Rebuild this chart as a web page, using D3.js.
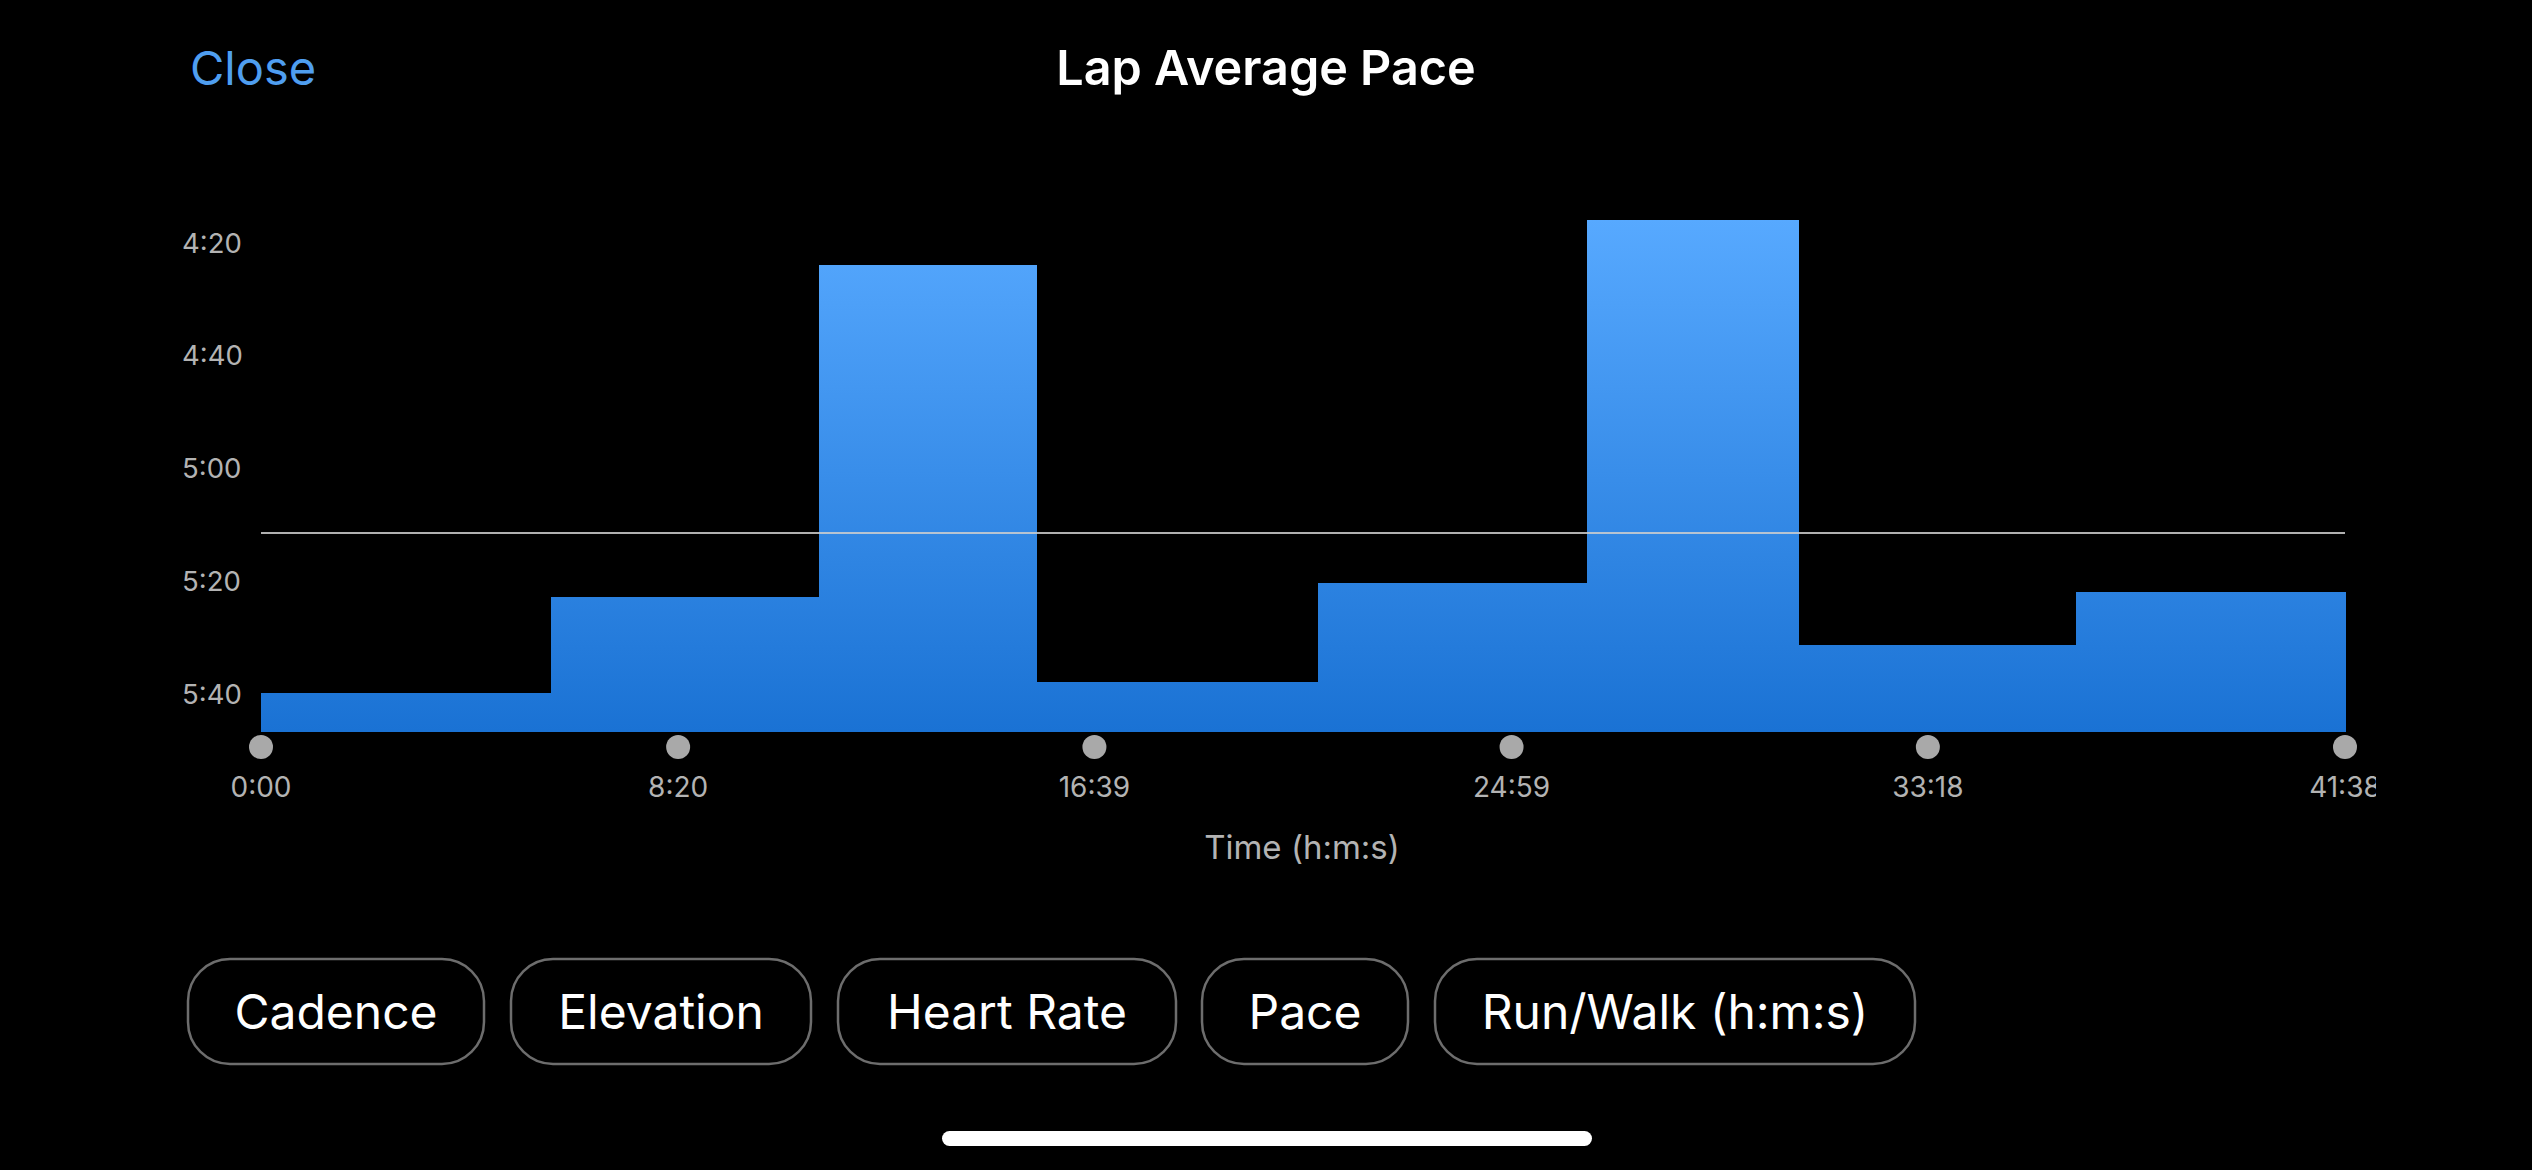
<!DOCTYPE html>
<html>
<head>
<meta charset="utf-8">
<script src="https://cdn.jsdelivr.net/npm/d3@7"></script>
<style>
  html, body { margin: 0; padding: 0; background: #000; overflow: hidden; }
  svg { display: block; font-family: Inter, Roboto, "Noto Sans", sans-serif; }
</style>
</head>
<body>
<div id="chart"></div>
<script>
// lap data (seconds)
var lapDurations = [348, 321, 261, 337, 323, 253, 333, 322]
var lapPaces = [340, 323, 264, 338, 320.5, 256, 331.5, 322]
var avgPace = 311.6
var paceTicks = [260, 280, 300, 320, 340]
var timeTicks = [0, 500, 999, 1499, 1998, 2498]
var buttonLabels = ["Cadence", "Elevation", "Heart Rate", "Pace", "Run/Walk (h:m:s)"]

var W = 2532, H = 1170
var plot = {left: 261, right: 2345, top: 219.5, bottom: 731.5}

var svg = d3.select("#chart").append("svg")
    .attr("width", W).attr("height", H)

svg.append("rect").attr("width", W).attr("height", H).style("fill", "#000")

var fmt = function(s) {
  s = Math.round(s)
  var m = Math.floor(s / 60), r = s % 60
  return m + ":" + (r < 10 ? "0" : "") + r
}

// header
svg.append("text").attr("x", 190).attr("y", 85)
    .style("font-size", "47px").style("fill", "#4f9ef0")
    .text("Close")
svg.append("text").attr("x", 1266).attr("y", 85)
    .attr("text-anchor", "middle")
    .style("font-size", "48.5px").style("font-weight", 600).style("fill", "#fff")
    .text("Lap Average Pace")

// scales
var total = d3.sum(lapDurations)
var x = d3.scaleLinear().domain([0, total]).range([plot.left, plot.right])
var y = d3.scaleLinear().domain([346.8, 256]).range([plot.bottom, plot.top])

var laps = []
var t = 0
lapDurations.forEach(function(d, i) {
  laps.push({start: t, end: t + d, pace: lapPaces[i]})
  t += d
})

// gradient over the whole plot height
var defs = svg.append("defs")
var grad = defs.append("linearGradient").attr("id", "barGrad")
    .attr("gradientUnits", "userSpaceOnUse")
    .attr("x1", 0).attr("x2", 0).attr("y1", plot.top).attr("y2", plot.bottom)
grad.append("stop").attr("offset", "0%").attr("stop-color", "#57a9ff")
grad.append("stop").attr("offset", "100%").attr("stop-color", "#1a72d4")

defs.append("clipPath").attr("id", "xclip")
  .append("rect").attr("x", 0).attr("y", 0).attr("width", 2376).attr("height", H)

// bars
svg.append("g").attr("shape-rendering", "crispEdges")
  .selectAll("rect").data(laps).join("rect")
    .attr("x", function(d) { return x(d.start) })
    .attr("width", function(d) { return x(d.end) - x(d.start) + 0.5 })
    .attr("y", function(d) { return y(d.pace) })
    .attr("height", function(d) { return plot.bottom - y(d.pace) })
    .style("fill", "url(#barGrad)")

// average line
svg.append("line")
    .attr("x1", x(0)).attr("x2", x(total))
    .attr("y1", y(avgPace)).attr("y2", y(avgPace))
    .style("stroke", "#cfcfcf").style("stroke-opacity", 0.85).style("stroke-width", 2)

// y labels
svg.append("g").selectAll("text").data(paceTicks).join("text")
    .attr("x", 182).attr("y", function(d) { return y(d) })
    .attr("dy", "0.38em")
    .style("font-size", "27.5px").style("fill", "#b3b3b3")
    .text(fmt)

// x axis: dots + labels
var xg = svg.append("g").attr("clip-path", "url(#xclip)")
xg.selectAll("circle").data(timeTicks).join("circle")
    .attr("cx", function(d) { return x(d) }).attr("cy", 747).attr("r", 12)
    .style("fill", "#a9a9a9")
xg.selectAll("text").data(timeTicks).join("text")
    .attr("x", function(d) { return x(d) }).attr("y", 797)
    .attr("text-anchor", "middle")
    .style("font-size", "28px").style("fill", "#b3b3b3")
    .text(fmt)

svg.append("text").attr("x", 1302).attr("y", 859)
    .attr("text-anchor", "middle")
    .style("font-size", "33px").style("fill", "#b3b3b3")
    .text("Time (h:m:s)")

// buttons
var btnX = [188, 511, 838, 1202, 1435]
var btnW = [296, 300, 338, 206, 480]
var btn = svg.append("g").selectAll("g").data(buttonLabels).join("g")
btn.append("rect")
    .attr("x", function(d, i) { return btnX[i] }).attr("y", 959)
    .attr("width", function(d, i) { return btnW[i] }).attr("height", 105)
    .attr("rx", 42)
    .style("fill", "none").style("stroke", "#6d6d6d").style("stroke-width", 2.5)
btn.append("text")
    .attr("x", function(d, i) { return btnX[i] + btnW[i] / 2 }).attr("y", 1012)
    .attr("dy", "0.36em").attr("text-anchor", "middle")
    .style("font-size", "48px").style("fill", "#fff")
    .text(function(d) { return d })

// home indicator
svg.append("rect").attr("x", 942).attr("y", 1131).attr("width", 650).attr("height", 15)
    .attr("rx", 7.5).style("fill", "#fff")
</script>
</body>
</html>
